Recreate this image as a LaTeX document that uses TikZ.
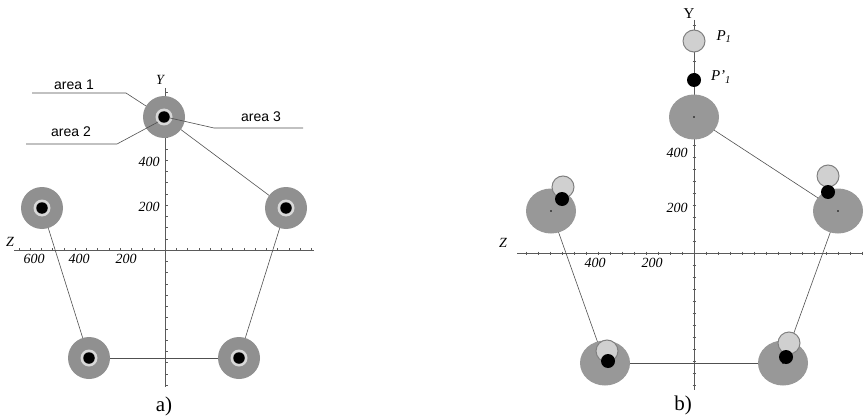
\documentclass[tikz,border=0pt]{standalone}
\usepackage{fontspec}
\usetikzlibrary{shapes.geometric}
\setmainfont{Liberation Serif}
\newfontfamily\arealabel{Liberation Sans}
\definecolor{ringgray}{HTML}{909090}
\definecolor{lightring}{HTML}{D8D8D8}
\definecolor{ellgray}{HTML}{989898}
\definecolor{pfill}{HTML}{D0D0D0}
\definecolor{pline}{HTML}{808080}
\definecolor{axisgray}{HTML}{5A5A5A}
\definecolor{linkgray}{HTML}{505050}
\begin{document}
\begin{tikzpicture}[x=1pt,y=-1pt,
  outerA/.style={circle,fill=ringgray,minimum size=42pt,inner sep=0pt},
  ringA/.style={circle,fill=lightring,minimum size=17pt,inner sep=0pt},
  coreA/.style={circle,fill=black,minimum size=11.5pt,inner sep=0pt},
  ellB/.style={ellipse,fill=ellgray,minimum width=50pt,minimum height=45pt,inner sep=0pt},
  dotB/.style={circle,fill=black,minimum size=1.6pt,inner sep=0pt},
  lightB/.style={circle,fill=pfill,draw=pline,line width=1pt,minimum size=22pt,inner sep=0pt},
  blackB/.style={circle,fill=black,minimum size=14pt,inner sep=0pt},
  axisline/.style={draw=axisgray,line width=0.7pt},
  tick/.style={draw=axisgray,line width=0.5pt},
  link/.style={draw=linkgray,line width=0.6pt},
  leader/.style={draw=linkgray,line width=0.6pt},
  arealbl/.style={font=\arealabel\fontsize{14}{16}\selectfont,inner sep=0pt},
  ticklbl/.style={font=\itshape\fontsize{14}{16}\selectfont,inner sep=0pt},
  axislbl/.style={font=\itshape\fontsize{14}{16}\selectfont,inner sep=0pt},
  caption/.style={font=\fontsize{21}{24}\selectfont,inner sep=0pt},
  plbl/.style={font=\fontsize{15}{17}\selectfont,inner sep=0pt}]
\useasboundingbox (0,0) rectangle (864,417);

% ---------------- panel a ----------------
\coordinate (aZl) at (14,250);
\coordinate (aZr) at (314,250);
\coordinate (aYt) at (165,88);
\coordinate (aYb) at (165,387);
\draw[axisline] (aZl) -- (aZr);
\draw[axisline] (aYt) -- (aYb);
\foreach \k in {-13,...,13}{\draw[tick] (165+11.25*\k,250) -- ++(0,-2.5);}
\foreach \k in {-12,...,14}{\draw[tick] (165,250-11.25*\k) -- ++(2.5,0);}
\node[axislbl] (aY) at (160,80) {Y};
\node[axislbl] (aZ) at (10,242) {Z};
\node[ticklbl] (a600) at (34,259) {600};
\node[ticklbl] (a400) at (79,259) {400};
\node[ticklbl] (a200) at (126,259) {200};
\node[ticklbl] (aY400) at (149,162) {400};
\node[ticklbl] (aY200) at (149,207) {200};

\foreach \n/\p in {a1/{(164,117)},a2/{(42,208)},a3/{(286,208)},a4/{(89,358)},a5/{(239,358)}}{
  \node[outerA] (\n) at \p {};
  \node[ringA] at \p {};
  \node[coreA] (\n c) at \p {};
}
\draw[link] (a1) -- (a3);
\draw[link] (a3) -- (a5);
\draw[link] (a2) -- (a4);
\draw[link] (a4) -- (a5);

\coordinate (l1a) at (32,93);  \coordinate (l1b) at (126,93);  \coordinate (l1c) at (146,106);
\coordinate (l2a) at (26,144); \coordinate (l2b) at (117,144); \coordinate (l2c) at (158,122);
\coordinate (l3a) at (170,118);\coordinate (l3b) at (214,128); \coordinate (l3c) at (303,128);
\draw[leader] (l1a) -- (l1b) -- (l1c);
\draw[leader] (l2a) -- (l2b) -- (l2c);
\draw[leader] (l3a) -- (l3b) -- (l3c);
\node[arealbl] (t1) at (74,85) {area 1};
\node[arealbl] (t2) at (71,132) {area 2};
\node[arealbl] (t3) at (261,117) {area 3};
\node[caption] (capa) at (164,406) {a)};

% ---------------- panel b ----------------
\coordinate (bZl) at (517,253);
\coordinate (bZr) at (863,253);
\coordinate (bYt) at (694,20);
\coordinate (bYb) at (694,390);
\draw[axisline] (bZl) -- (bZr);
\draw[axisline] (bYt) -- (bYb);
\foreach \k in {-14,...,14}{\draw[tick] (694+12*\k,251.5) -- ++(0,3);}
\foreach \k in {-11,...,19}{\draw[tick] (692.5,253-12*\k) -- ++(3,0);}
\node[font=\fontsize{15}{17}\selectfont,inner sep=0pt] (bY) at (689,14) {Y};
\node[axislbl] (bZ) at (503,243) {Z};
\node[ticklbl] (b400) at (595,263) {400};
\node[ticklbl] (b200) at (652,263) {200};
\node[ticklbl] (bY400) at (677,153) {400};
\node[ticklbl] (bY200) at (677,208) {200};

\coordinate (c1) at (694,117);
\coordinate (c2) at (551,211);
\coordinate (c3) at (838,211);
\coordinate (c4) at (605,363);
\coordinate (c5) at (783,363);
\draw[link] (c1) -- (c3);
\draw[link] (c3) -- (c5);
\draw[link] (c2) -- (c4);
\draw[link] (c4) -- (c5);
\foreach \n in {1,...,5}{
  \node[ellB] (b\n) at (c\n) {};
  \node[dotB] (d\n) at (c\n) {};
}
\node[lightB] (p1) at (694,41) {};
\node[blackB] (q1) at (694,80) {};
\node[lightB] (p2) at (563,187) {};
\node[blackB] (q2) at (562,199) {};
\node[lightB] (p3) at (828,176) {};
\node[blackB] (q3) at (828,192) {};
\node[lightB] (p4) at (607,351) {};
\node[blackB] (q4) at (608,361) {};
\node[lightB] (p5) at (789,343) {};
\node[blackB] (q5) at (786,357) {};
\node[plbl] (lp1) at (724,37) {\textit{P}\textsubscript{\textit{1}}};
\node[plbl] (lq1) at (721,77) {\textit{P'}\textsubscript{\textit{1}}};
\node[caption] (capb) at (683,405) {b)};
\end{tikzpicture}
\end{document}
